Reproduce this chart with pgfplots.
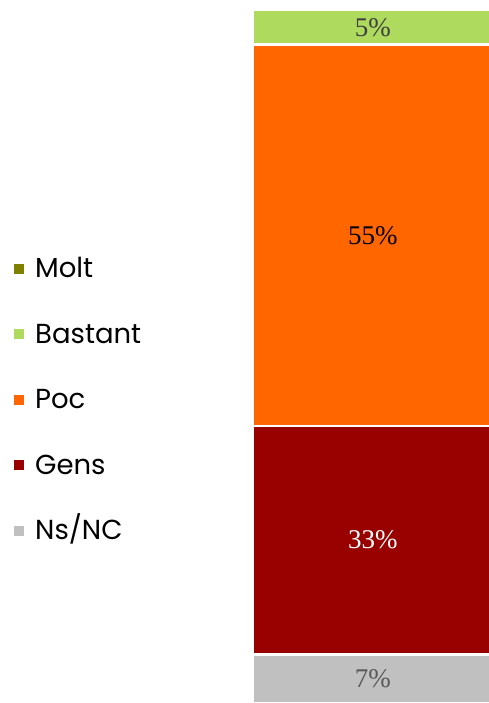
\documentclass[border=0pt]{standalone}
\usepackage{fontspec}
\setmainfont{Liberation Serif}
\newfontfamily\legfont{Poppins}
\usepackage{pgfplots}
\pgfplotsset{compat=1.18}
\definecolor{cMolt}{HTML}{808000}
\definecolor{cBast}{HTML}{AEDB5E}
\definecolor{cPoc}{HTML}{FF6600}
\definecolor{cGens}{HTML}{990000}
\definecolor{cNs}{HTML}{C0C0C0}
\pgfplotsset{
  common/.style={
    at={(253pt,0pt)}, anchor=south west,
    width=235pt, height=693pt, scale only axis,
    xmin=-0.5, xmax=0.5, ymin=0, ymax=100,
    axis lines=none, clip=false},
  lbl/.style={only marks, mark=none, nodes near coords, point meta=explicit symbolic,
    every node near coord/.append style={anchor=center, text=#1, font=\fontsize{27}{27}\selectfont}}
}
\begin{document}
\begin{tikzpicture}
\path[use as bounding box] (0,0) rectangle (488pt,703pt);
\begin{axis}[
  common,
  ybar stacked, bar width=240pt, bar shift=2.5pt,
  legend image code/.code={\fill[#1,draw=none] (0pt,-3pt) rectangle (10pt,7pt);},
  reverse legend,
  legend cell align=left,
  legend style={draw=none, fill=none, inner sep=0pt,
    at={(-1.017,0.4344)}, anchor=west,
    font=\legfont\fontsize{27.5}{27.5}\selectfont,
    nodes={text height=20pt, text depth=6pt},
    row sep=35.5pt,
    /tikz/every odd column/.append style={column sep=9pt}},
]
\addplot[fill=cNs, draw=white, line width=2.5pt] coordinates {(0,7)};
\addlegendentry{Ns/NC}
\addplot[fill=cGens, draw=white, line width=2.5pt] coordinates {(0,33)};
\addlegendentry{Gens}
\addplot[fill=cPoc, draw=white, line width=2.5pt] coordinates {(0,55)};
\addlegendentry{Poc}
\addplot[fill=cBast, draw=white, line width=2.5pt] coordinates {(0,5)};
\addlegendentry{Bastant}
\addplot[fill=cMolt, draw=none] coordinates {(0,0)};
\addlegendentry{Molt}
\end{axis}
\begin{axis}[common]
\addplot[lbl=black!65] coordinates {(0.01,3.5) [7\%]};
\addplot[lbl=white] coordinates {(0.01,23.5) [33\%]};
\addplot[lbl=black] coordinates {(0.01,67.5) [55\%]};
\addplot[lbl=black!75] coordinates {(0.01,97.5) [5\%]};
\end{axis}
\end{tikzpicture}
\end{document}
